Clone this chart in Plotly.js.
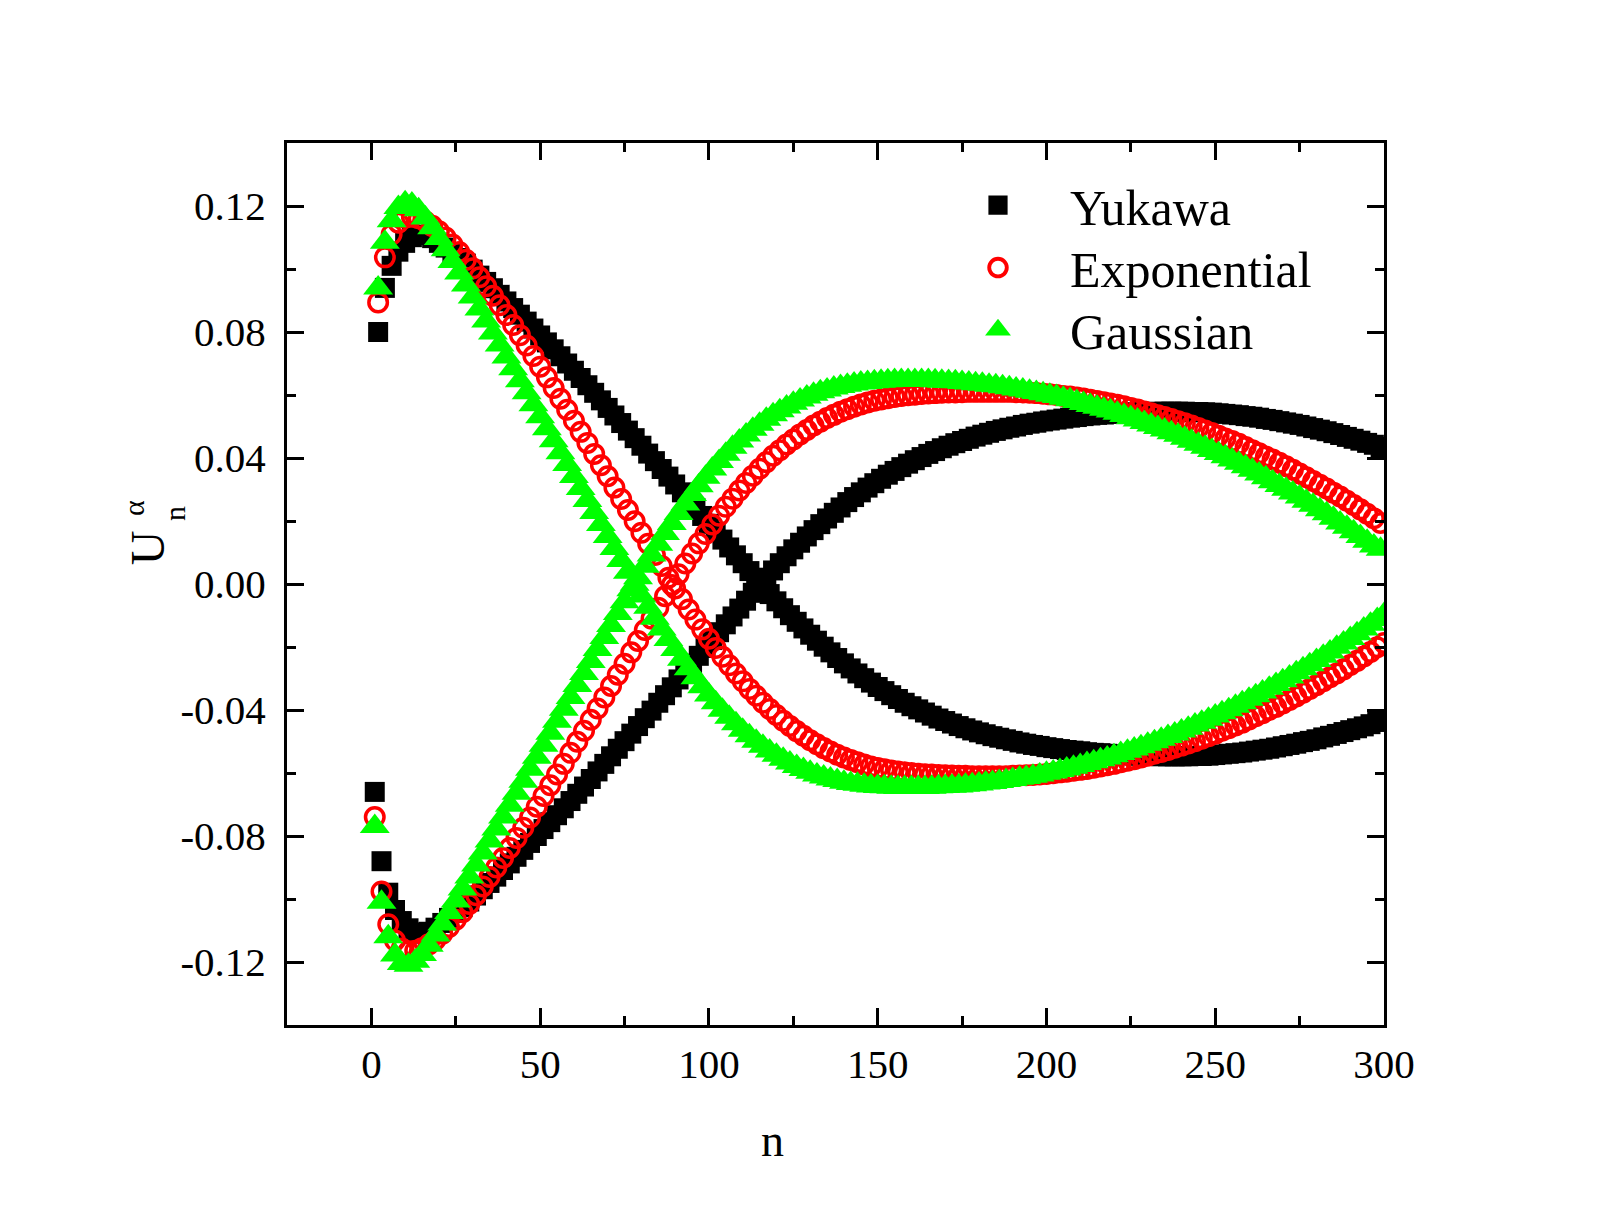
<!DOCTYPE html>
<html>
<head>
<meta charset="utf-8">
<script src="https://cdn.plot.ly/plotly-3.0.1.min.js"></script>
<style>html,body{margin:0;padding:0;background:#fff;}#chart{width:1609px;height:1232px;}</style>
</head>
<body>
<div id="chart"></div>
<script>
// Series names
const seriesNames = ["Yukawa", "Exponential", "Gaussian"];

// Site index n: even sites (2..300) and odd sites (1..299)
const nEven = Array.from({length: 150}, (_, i) => 2 * (i + 1));
const nOdd = Array.from({length: 150}, (_, i) => 2 * i + 1);

// Yukawa: values at even sites
const yukawaEven = [
 .0800,.0940,.1010,.1055,.1083,.1101,.1109,.1108,.1098,.1083,
 .1068,.1052,.1035,.1017,.0998,.0979,.0959,.0939,.0918,.0897,
 .0876,.0855,.0833,.0811,.0789,.0767,.0745,.0723,.0700,.0677,
 .0654,.0631,.0607,.0583,.0559,.0535,.0511,.0487,.0463,.0439,
 .0414,.0390,.0365,.0341,.0316,.0291,.0266,.0241,.0216,.0191,
 .0166,.0141,.0116,.0091,.0066,.0041,.0016,-.0008,-.0032,-.0055,
 -.0077,-.0099,-.0120,-.0141,-.0161,-.0180,-.0199,-.0217,-.0235,-.0252,
 -.0268,-.0284,-.0299,-.0313,-.0327,-.0340,-.0353,-.0365,-.0377,-.0388,
 -.0398,-.0408,-.0418,-.0427,-.0435,-.0443,-.0451,-.0458,-.0465,-.0471,
 -.0477,-.0483,-.0488,-.0493,-.0498,-.0503,-.0507,-.0511,-.0514,-.0518,
 -.0521,-.0524,-.0527,-.0529,-.0531,-.0534,-.0536,-.0537,-.0539,-.0541,
 -.0542,-.0543,-.0544,-.0545,-.0546,-.0546,-.0547,-.0547,-.0547,-.0547,
 -.0547,-.0546,-.0546,-.0545,-.0543,-.0541,-.0539,-.0537,-.0535,-.0532,
 -.0529,-.0526,-.0523,-.0519,-.0515,-.0511,-.0507,-.0502,-.0498,-.0493,
 -.0487,-.0482,-.0476,-.0470,-.0464,-.0458,-.0452,-.0445,-.0438,-.0431
];
// Yukawa: values at odd sites
const yukawaOdd = [
 -.0660,-.0880,-.0980,-.1035,-.1070,-.1093,-.1106,-.1110,-.1104,-.1091,
 -.1076,-.1060,-.1044,-.1026,-.1008,-.0989,-.0969,-.0949,-.0929,-.0908,
 -.0887,-.0866,-.0844,-.0822,-.0800,-.0778,-.0756,-.0734,-.0712,-.0689,
 -.0666,-.0643,-.0619,-.0595,-.0571,-.0547,-.0523,-.0499,-.0475,-.0451,
 -.0426,-.0402,-.0377,-.0353,-.0328,-.0303,-.0278,-.0253,-.0228,-.0203,
 -.0178,-.0153,-.0128,-.0103,-.0078,-.0053,-.0028,-.0004,.0020,.0043,
 .0066,.0088,.0110,.0131,.0151,.0171,.0190,.0208,.0226,.0243,
 .0260,.0276,.0291,.0306,.0320,.0334,.0347,.0359,.0371,.0382,
 .0393,.0403,.0413,.0422,.0431,.0439,.0447,.0454,.0461,.0468,
 .0474,.0480,.0486,.0491,.0496,.0500,.0505,.0509,.0512,.0516,
 .0519,.0522,.0525,.0528,.0530,.0533,.0535,.0537,.0538,.0540,
 .0541,.0543,.0544,.0545,.0546,.0546,.0547,.0547,.0547,.0547,
 .0547,.0546,.0546,.0545,.0544,.0542,.0540,.0538,.0536,.0533,
 .0531,.0528,.0524,.0521,.0517,.0513,.0509,.0505,.0500,.0495,
 .0490,.0485,.0479,.0473,.0467,.0461,.0455,.0448,.0442,.0435
];

// Exponential
const expEven = [
 .0894,.1037,.1110,.1147,.1163,.1166,.1161,.1151,.1137,.1120,
 .1100,.1078,.1054,.1029,.1002,.0974,.0945,.0915,.0885,.0854,
 .0822,.0790,.0757,.0724,.0690,.0656,.0622,.0588,.0553,.0518,
 .0483,.0448,.0413,.0377,.0342,.0306,.0270,.0235,.0199,.0163,
 .0128,.0092,.0057,.0020,-.0014,-.0048,-.0081,-.0113,-.0144,-.0174,
 -.0203,-.0231,-.0258,-.0284,-.0309,-.0333,-.0355,-.0377,-.0397,-.0416,
 -.0434,-.0451,-.0467,-.0482,-.0496,-.0509,-.0521,-.0532,-.0542,-.0551,
 -.0559,-.0566,-.0573,-.0579,-.0584,-.0588,-.0592,-.0595,-.0598,-.0600,
 -.0602,-.0604,-.0605,-.0606,-.0607,-.0608,-.0609,-.0609,-.0610,-.0610,
 -.0610,-.0610,-.0610,-.0610,-.0609,-.0608,-.0607,-.0606,-.0605,-.0603,
 -.0601,-.0598,-.0596,-.0593,-.0590,-.0587,-.0583,-.0579,-.0575,-.0571,
 -.0566,-.0561,-.0556,-.0551,-.0545,-.0539,-.0533,-.0527,-.0520,-.0513,
 -.0506,-.0499,-.0491,-.0483,-.0475,-.0466,-.0458,-.0449,-.0440,-.0430,
 -.0420,-.0410,-.0400,-.0390,-.0379,-.0368,-.0357,-.0345,-.0333,-.0321,
 -.0309,-.0296,-.0284,-.0271,-.0257,-.0244,-.0230,-.0216,-.0201,-.0187
];
const expOdd = [
 -.0740,-.0976,-.1080,-.1132,-.1157,-.1166,-.1164,-.1156,-.1144,-.1129,
 -.1110,-.1089,-.1066,-.1042,-.1016,-.0988,-.0960,-.0930,-.0900,-.0870,
 -.0838,-.0806,-.0774,-.0741,-.0707,-.0673,-.0639,-.0605,-.0571,-.0536,
 -.0501,-.0466,-.0431,-.0395,-.0360,-.0324,-.0288,-.0253,-.0217,-.0181,
 -.0146,-.0110,-.0075,-.0039,-.0003,.0031,.0065,.0097,.0129,.0159,
 .0189,.0217,.0245,.0271,.0297,.0321,.0344,.0366,.0387,.0407,
 .0425,.0443,.0459,.0475,.0489,.0503,.0515,.0527,.0537,.0547,
 .0555,.0563,.0570,.0576,.0582,.0586,.0590,.0594,.0597,.0599,
 .0601,.0603,.0605,.0606,.0607,.0608,.0608,.0609,.0610,.0610,
 .0610,.0610,.0610,.0610,.0610,.0609,.0608,.0607,.0606,.0604,
 .0602,.0600,.0597,.0595,.0592,.0589,.0585,.0581,.0577,.0573,
 .0569,.0564,.0559,.0554,.0548,.0542,.0536,.0530,.0524,.0517,
 .0510,.0503,.0495,.0487,.0479,.0471,.0462,.0454,.0445,.0435,
 .0425,.0415,.0405,.0395,.0385,.0374,.0363,.0351,.0339,.0327,
 .0315,.0303,.0290,.0278,.0264,.0251,.0237,.0223,.0209,.0194
];

// Gaussian
const gaussEven = [
 .0940,.1085,.1153,.1195,.1210,.1206,.1188,.1162,.1131,.1097,
 .1061,.1024,.0987,.0949,.0911,.0873,.0835,.0797,.0759,.0721,
 .0683,.0645,.0607,.0569,.0531,.0493,.0455,.0417,.0379,.0341,
 .0303,.0265,.0227,.0189,.0151,.0113,.0075,.0037,-.0001,-.0038,
 -.0074,-.0109,-.0143,-.0176,-.0208,-.0239,-.0269,-.0298,-.0326,-.0352,
 -.0377,-.0401,-.0423,-.0444,-.0464,-.0482,-.0499,-.0515,-.0530,-.0544,
 -.0556,-.0568,-.0579,-.0589,-.0598,-.0606,-.0613,-.0619,-.0624,-.0629,
 -.0633,-.0636,-.0639,-.0641,-.0643,-.0644,-.0645,-.0646,-.0646,-.0646,
 -.0646,-.0646,-.0645,-.0644,-.0643,-.0642,-.0641,-.0639,-.0637,-.0635,
 -.0632,-.0630,-.0627,-.0624,-.0621,-.0617,-.0614,-.0610,-.0606,-.0601,
 -.0597,-.0592,-.0587,-.0582,-.0576,-.0570,-.0564,-.0558,-.0552,-.0545,
 -.0538,-.0531,-.0524,-.0517,-.0509,-.0501,-.0493,-.0484,-.0476,-.0467,
 -.0458,-.0448,-.0439,-.0429,-.0419,-.0409,-.0399,-.0388,-.0377,-.0366,
 -.0355,-.0343,-.0331,-.0319,-.0307,-.0295,-.0282,-.0269,-.0256,-.0243,
 -.0229,-.0216,-.0201,-.0187,-.0173,-.0158,-.0143,-.0128,-.0113,-.0097
];
const gaussOdd = [
 -.0770,-.1010,-.1120,-.1178,-.1205,-.1210,-.1198,-.1176,-.1147,-.1114,
 -.1079,-.1043,-.1006,-.0968,-.0930,-.0892,-.0854,-.0816,-.0778,-.0740,
 -.0702,-.0664,-.0626,-.0588,-.0550,-.0512,-.0474,-.0436,-.0398,-.0360,
 -.0322,-.0284,-.0246,-.0208,-.0170,-.0132,-.0094,-.0056,-.0018,.0020,
 .0056,.0092,.0126,.0160,.0192,.0224,.0254,.0284,.0312,.0339,
 .0365,.0389,.0412,.0434,.0454,.0473,.0491,.0507,.0523,.0537,
 .0550,.0562,.0574,.0584,.0594,.0602,.0610,.0616,.0622,.0627,
 .0631,.0635,.0638,.0640,.0642,.0644,.0645,.0646,.0646,.0646,
 .0646,.0646,.0646,.0645,.0644,.0643,.0642,.0640,.0638,.0636,
 .0634,.0631,.0629,.0626,.0623,.0619,.0616,.0612,.0608,.0604,
 .0599,.0595,.0590,.0585,.0579,.0573,.0567,.0561,.0555,.0549,
 .0542,.0535,.0528,.0521,.0513,.0505,.0497,.0489,.0480,.0472,
 .0463,.0453,.0444,.0434,.0424,.0414,.0404,.0394,.0383,.0372,
 .0361,.0349,.0337,.0325,.0313,.0301,.0289,.0276,.0263,.0250,
 .0236,.0223,.0209,.0194,.0180,.0166,.0151,.0136,.0121,.0110
];

// Tick labels
const xTickVals = [0, 50, 100, 150, 200, 250, 300];
const xTickText = ["0", "50", "100", "150", "200", "250", "300"];
const yTickVals = [-0.12, -0.08, -0.04, 0, 0.04, 0.08, 0.12];
const yTickText = ["-0.12", "-0.08", "-0.04", "0.00", "0.04", "0.08", "0.12"];

const FONT = '"Liberation Serif", "Times New Roman", serif';

const traces = [
  {
    name: seriesNames[0], type: 'scatter', mode: 'markers',
    x: nEven.concat(nOdd), y: yukawaEven.concat(yukawaOdd),
    marker: {symbol: 'square', size: 20, color: '#000000', line: {width: 0}},
    cliponaxis: true
  },
  {
    name: seriesNames[1], type: 'scatter', mode: 'markers',
    x: nEven.concat(nOdd), y: expEven.concat(expOdd),
    marker: {symbol: 'circle-open', size: 18.5, color: '#ff0000', line: {width: 3.5, color: '#ff0000'}},
    cliponaxis: true
  },
  {
    name: seriesNames[2], type: 'scatter', mode: 'markers',
    x: nEven.concat(nOdd), y: gaussEven.concat(gaussOdd),
    marker: {symbol: 'triangle-up', size: 26, color: '#00ff00', line: {width: 0}},
    cliponaxis: true
  }
];

const axisCommon = {
  showline: true, linecolor: '#000', linewidth: 3, mirror: 'allticks',
  ticks: 'inside', ticklen: 17, tickwidth: 3, tickcolor: '#000',
  showgrid: false, zeroline: false,
  tickfont: {family: FONT, size: 41, color: '#000'}
};

const layout = {
  width: 1609, height: 1232,
  margin: {l: 287, r: 225, t: 143, b: 207},
  paper_bgcolor: '#fff', plot_bgcolor: '#fff',
  font: {family: FONT, color: '#000'},
  showlegend: true,
  legend: {
    x: 0.5825, xanchor: 'left', y: 0.9737, yanchor: 'top',
    font: {family: FONT, size: 50, color: '#000'},
    itemwidth: 134, bgcolor: 'rgba(0,0,0,0)', borderwidth: 0,
    tracegroupgap: 0
  },
  xaxis: Object.assign({}, axisCommon, {
    range: [-25, 300], tickmode: 'array', tickvals: xTickVals, ticktext: xTickText,
    ticklabelstandoff: 1,
    minor: {ticks: 'inside', ticklen: 9, tickwidth: 3, tickcolor: '#000', tickvals: [25, 75, 125, 175, 225, 275]}
  }),
  yaxis: Object.assign({}, axisCommon, {
    range: [-0.14, 0.14], tickmode: 'array', tickvals: yTickVals, ticktext: yTickText,
    ticklabelstandoff: 10,
    minor: {ticks: 'inside', ticklen: 9, tickwidth: 3, tickcolor: '#000', tickvals: [-0.1, -0.06, -0.02, 0.02, 0.06, 0.1]}
  }),
  annotations: [
    {text: 'n', xref: 'paper', yref: 'paper', x: 0.4428, y: -0.1315, xanchor: 'center', yanchor: 'middle',
     showarrow: false, font: {family: FONT, size: 46, color: '#000'}},
    {text: 'U', xref: 'paper', yref: 'paper', x: -0.1275, y: 0.5408, xanchor: 'center', yanchor: 'middle',
     textangle: -90, showarrow: false, font: {family: FONT, size: 48, color: '#000'}},
    {text: 'α', xref: 'paper', yref: 'paper', x: -0.1405, y: 0.586, xanchor: 'center', yanchor: 'middle',
     textangle: -90, showarrow: false, font: {family: FONT, size: 30, color: '#000'}},
    {text: 'n', xref: 'paper', yref: 'paper', x: -0.1025, y: 0.580, xanchor: 'center', yanchor: 'middle',
     textangle: -90, showarrow: false, font: {family: FONT, size: 30, color: '#000'}}
  ]
};

// Legend symbol scale factors and row spacing correction (visual styling only)
const legendSymbolScale = [1.2, 1.1, 1.4];
const legendRowShift = -5.65;

Plotly.newPlot('chart', traces, layout, {staticPlot: true, displayModeBar: false}).then(function (gd) {
  const items = gd.querySelectorAll('.legend .traces');
  items.forEach(function (g, i) {
    const t = g.getAttribute('transform') || '';
    const m = t.match(/translate\(\s*([-\d.]+)[ ,]+([-\d.]+)\s*\)/);
    if (m) {
      const tx = parseFloat(m[1]), ty = parseFloat(m[2]) + legendRowShift * i;
      g.setAttribute('transform', 'translate(' + tx + ',' + ty + ')');
    }
    g.querySelectorAll('.legendpoints path').forEach(function (p) {
      const pt = p.getAttribute('transform') || '';
      p.setAttribute('transform', pt + ' scale(' + legendSymbolScale[i] + ')');
    });
  });
});
</script>
</body>
</html>
